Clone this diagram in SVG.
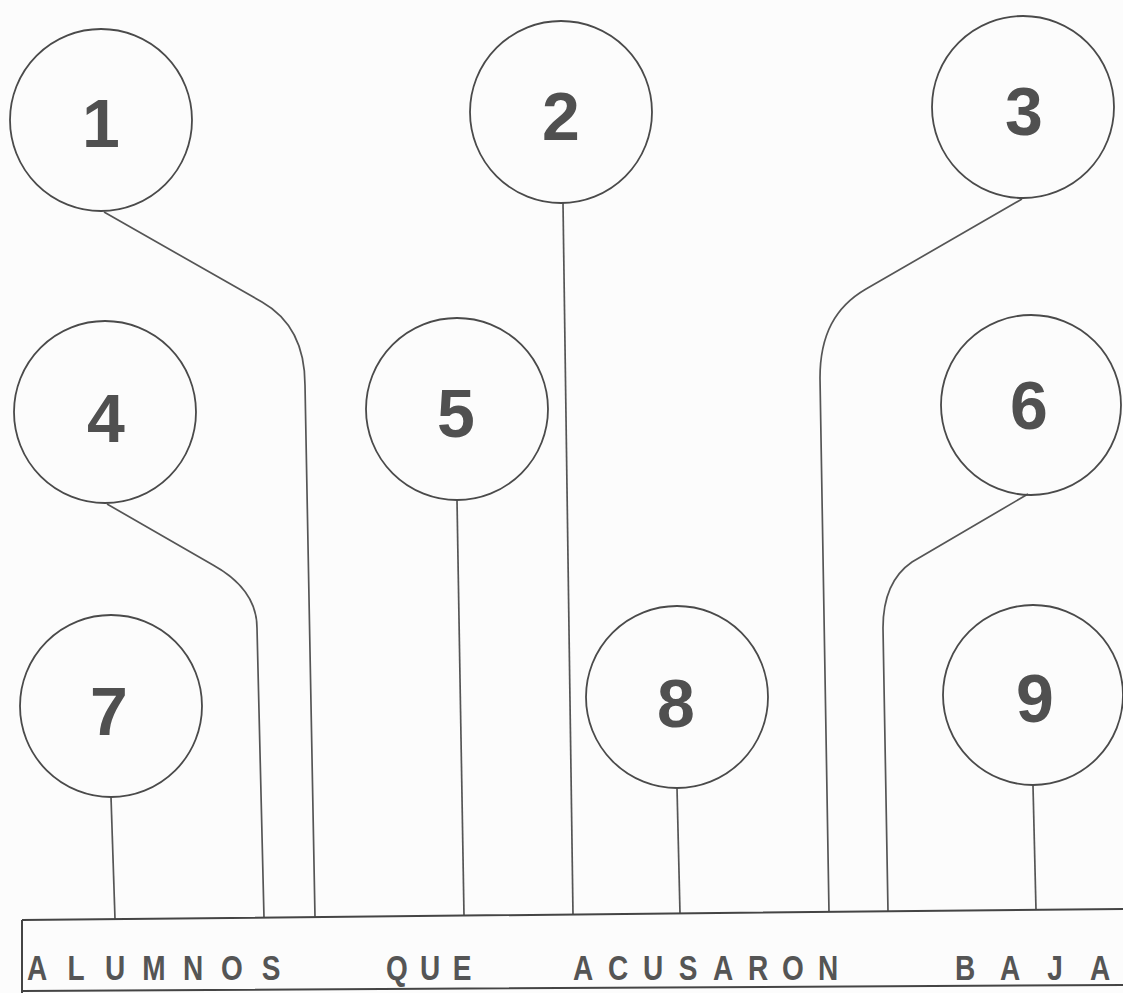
<svg xmlns="http://www.w3.org/2000/svg" width="1123" height="993" viewBox="0 0 1123 993">
<style>
.node circle{fill:none;stroke:#4a4a4a;stroke-width:1.8}
.node text{font-family:"Liberation Sans",Arial,sans-serif;font-weight:bold;font-size:68px;fill:#505050;text-anchor:middle}
#connectors path{fill:none;stroke:#555;stroke-width:1.7}
#bar path{fill:none;stroke:#444;stroke-width:2}
#bar text{font-family:"Liberation Sans",Arial,sans-serif;font-weight:bold;font-size:35px;fill:#555;text-anchor:middle}
</style>
<rect width="1123" height="993" fill="#fcfcfc"/>
<g id="connectors">
<path d="M104,212 L262,302 C290,318 305,345 305,385 L315,917"/>
<path d="M563,203 L573,914.5"/>
<path d="M1022,199 L866,289 C835,307 820,335 820,378 L829,912"/>
<path d="M107,504 L213,565 C240,580 257,600 257,628 L264,917.6"/>
<path d="M457,500 L464,915.6"/>
<path d="M1028,494 L912,562 C893,575 883,597 883,628 L888,911.3"/>
<path d="M111,797 L115,919"/>
<path d="M677,788 L680,913.4"/>
<path d="M1033,786 L1036,910"/>
</g>
<g id="node1" class="node"><circle cx="101" cy="120" r="91"/><text x="101" y="147">1</text></g>
<g id="node2" class="node"><circle cx="561" cy="112" r="91"/><text x="561" y="140">2</text></g>
<g id="node3" class="node"><circle cx="1023" cy="107" r="91"/><text x="1024" y="135">3</text></g>
<g id="node4" class="node"><circle cx="105" cy="412" r="91"/><text x="106" y="442">4</text></g>
<g id="node5" class="node"><circle cx="457" cy="409" r="91"/><text x="456" y="437">5</text></g>
<g id="node6" class="node"><circle cx="1031" cy="405" r="90"/><text x="1029" y="429">6</text></g>
<g id="node7" class="node"><circle cx="111" cy="706" r="91"/><text x="109" y="735">7</text></g>
<g id="node8" class="node"><circle cx="677" cy="697" r="91"/><text x="676" y="727">8</text></g>
<g id="node9" class="node"><circle cx="1033" cy="695" r="90"/><text x="1035" y="722">9</text></g>
<g id="bar">
<path d="M22,920 L1123,909 M22,920 L22,993 M22,991 L1123,985"/>
<g transform="scale(0.8,1)">
<text x="46.25 95 143.75 192.5 241.25 290 338.75" y="980">ALUMNOS</text>
<text x="496.25 537.5 577.5" y="980">QUE</text>
<text x="728.75 772.5 816.25 860 903.75 947.5 991.25 1035" y="980">ACUSARON</text>
<text x="1206.25 1262.5 1318.75 1375" y="980">BAJA</text>
</g>
</g>
</svg>
